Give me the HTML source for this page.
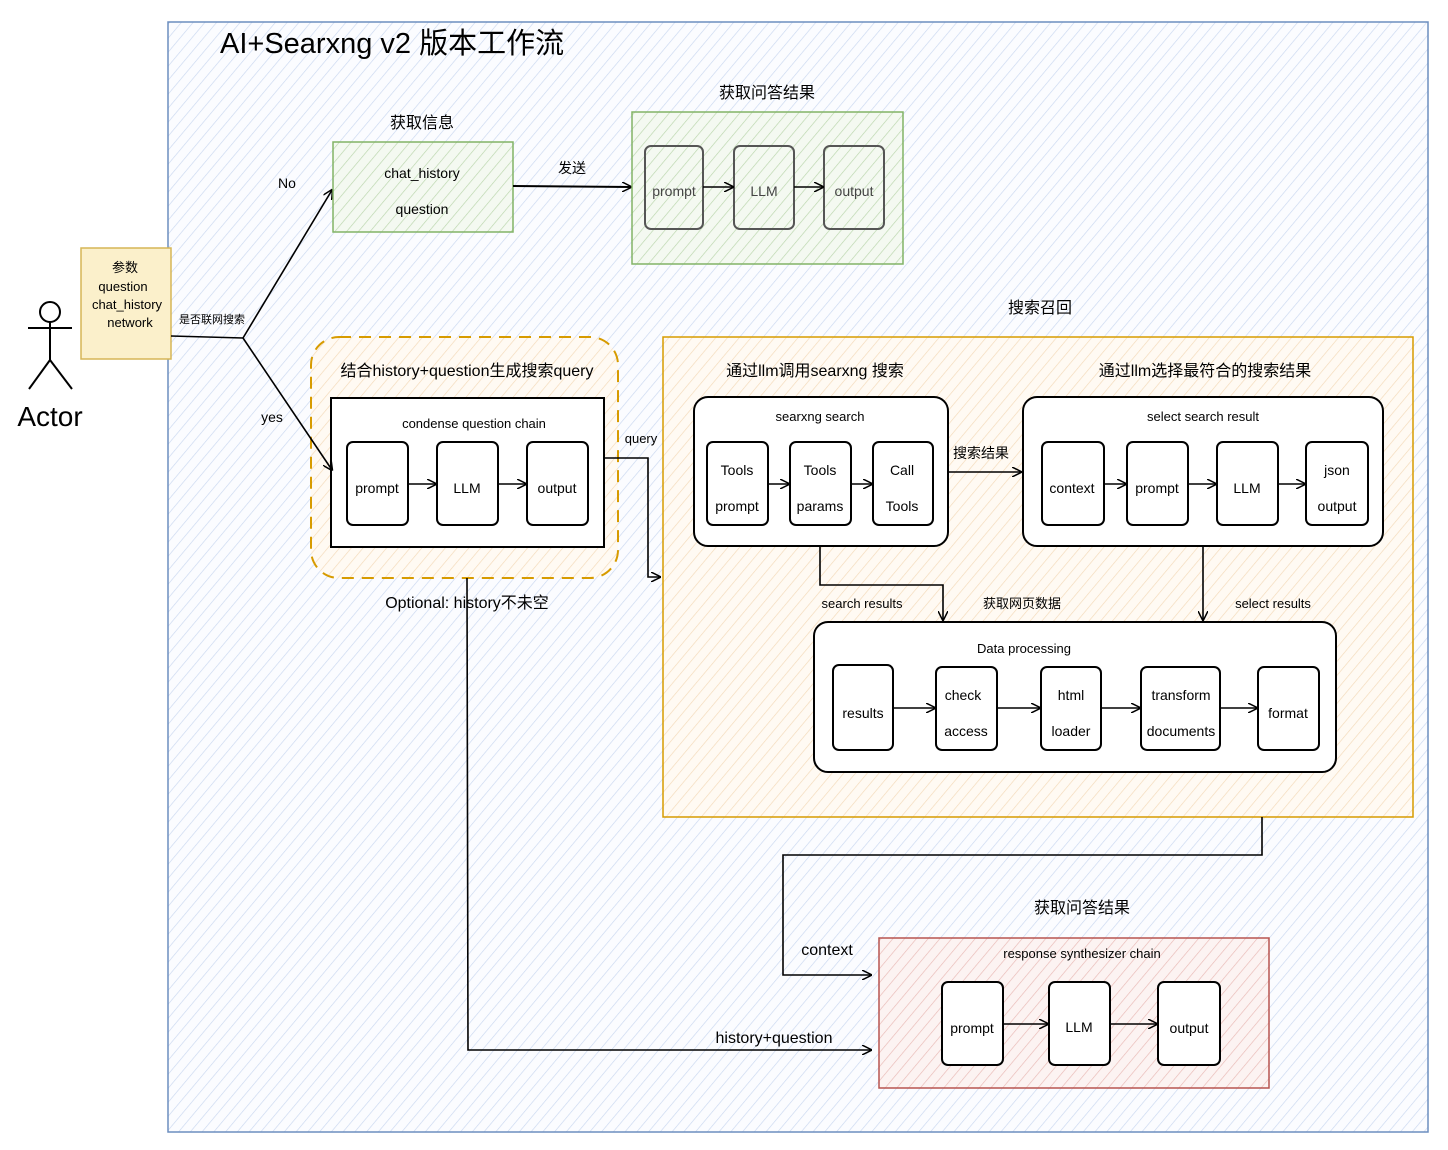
<!DOCTYPE html>
<html><head><meta charset="utf-8"><style>
html,body{margin:0;padding:0;background:#fff;}
svg{display:block;}
text{font-family:"Liberation Sans","Noto Sans CJK SC",sans-serif;fill:#000;}
</style></head><body>
<svg width="1448" height="1150" viewBox="0 0 1448 1150" xmlns="http://www.w3.org/2000/svg">
<defs>
<pattern id="hb" width="9" height="9" patternUnits="userSpaceOnUse" patternTransform="rotate(40)"><rect width="9" height="9" fill="#fbfcff"/><line x1="0" y1="0" x2="0" y2="9" stroke="#c9d7f0" stroke-width="1.3"/></pattern>
<pattern id="hg" width="9" height="9" patternUnits="userSpaceOnUse" patternTransform="rotate(40)"><rect width="9" height="9" fill="#f4f9f1"/><line x1="0" y1="0" x2="0" y2="9" stroke="#b9d5ab" stroke-width="1.3"/></pattern>
<pattern id="ho" width="9" height="9" patternUnits="userSpaceOnUse" patternTransform="rotate(40)"><rect width="9" height="9" fill="#fffaf3"/><line x1="0" y1="0" x2="0" y2="9" stroke="#f3d9b8" stroke-width="1.3"/></pattern>
<pattern id="hr" width="9" height="9" patternUnits="userSpaceOnUse" patternTransform="rotate(40)"><rect width="9" height="9" fill="#fcf3f2"/><line x1="0" y1="0" x2="0" y2="9" stroke="#e8b9b5" stroke-width="1.3"/></pattern>
<marker id="ar" viewBox="0 0 10 10" refX="9" refY="5" markerWidth="10" markerHeight="10" orient="auto" markerUnits="userSpaceOnUse"><path d="M0,0 L10,5 L0,10" fill="none" stroke="#000" stroke-width="1.5"/></marker>
</defs>

<rect x="168" y="22" width="1260" height="1110" fill="url(#hb)" stroke="#6c8ebf" stroke-width="1.5"/>
<text x="220" y="53" font-size="29">AI+Searxng v2 版本工作流</text>

<g stroke="#000" stroke-width="2" fill="none">
<circle cx="50" cy="312" r="10"/>
<line x1="50" y1="322" x2="50" y2="360"/>
<line x1="28" y1="328" x2="72" y2="328"/>
<line x1="50" y1="360" x2="29" y2="389"/>
<line x1="50" y1="360" x2="72" y2="389"/>
</g>
<text x="50" y="426" font-size="28" text-anchor="middle">Actor</text>

<rect x="81" y="248" width="90" height="111" fill="#fbf0cb" stroke="#d6b656" stroke-width="1.5"/>
<g font-size="13" text-anchor="middle">
<text x="125" y="272">参数</text><text x="123" y="291">question</text><text x="127" y="309">chat_history</text><text x="130" y="327">network</text>
</g>

<g stroke="#000" stroke-width="1.6" fill="none">
<path d="M171,336 L243,338"/>
<path d="M243,338 L332,190" marker-end="url(#ar)"/>
</g>
<text x="212" y="323" font-size="11" text-anchor="middle">是否联网搜索</text>
<text x="287" y="188" font-size="14" text-anchor="middle">No</text>
<text x="272" y="422" font-size="14" text-anchor="middle">yes</text>

<text x="422" y="128" font-size="16" text-anchor="middle">获取信息</text>
<rect x="333" y="142" width="180" height="90" fill="url(#hg)" stroke="#82b366" stroke-width="1.5"/>
<text x="422" y="178" font-size="14" text-anchor="middle">chat_history</text>
<text x="422" y="214" font-size="14" text-anchor="middle">question</text>
<path d="M513,186 L631,187" stroke="#000" stroke-width="2" fill="none" marker-end="url(#ar)"/>
<text x="572" y="173" font-size="14" text-anchor="middle">发送</text>

<text x="767" y="98" font-size="16" text-anchor="middle">获取问答结果</text>
<rect x="632" y="112" width="271" height="152" fill="url(#hg)" stroke="#82b366" stroke-width="1.5"/>
<g fill="#fff" fill-opacity="0" stroke="#555" stroke-width="2">
<rect x="645" y="146" width="58" height="83" rx="6"/>
<rect x="734" y="146" width="60" height="83" rx="6"/>
<rect x="824" y="146" width="60" height="83" rx="6"/>
</g>
<g font-size="14" text-anchor="middle">
<text x="674" y="196" style="fill:#444">prompt</text><text x="764" y="196" style="fill:#444">LLM</text><text x="854" y="196" style="fill:#444">output</text>
</g>
<g stroke="#000" stroke-width="1.6" fill="none">
<path d="M703,187 L733,187" marker-end="url(#ar)"/>
<path d="M794,187 L823,187" marker-end="url(#ar)"/>
</g>

<text x="1040" y="313" font-size="16" text-anchor="middle">搜索召回</text>

<rect x="311" y="337" width="307" height="241" rx="28" fill="url(#ho)" stroke="#d79b00" stroke-width="2" stroke-dasharray="12,8"/>
<text x="467" y="376" font-size="16" text-anchor="middle">结合history+question生成搜索query</text>
<rect x="331" y="398" width="273" height="149" fill="#fff" stroke="#000" stroke-width="2"/>
<text x="474" y="428" font-size="13" text-anchor="middle">condense question chain</text>
<g fill="#fff" stroke="#000" stroke-width="2">
<rect x="347" y="442" width="61" height="83" rx="6"/>
<rect x="437" y="442" width="61" height="83" rx="6"/>
<rect x="527" y="442" width="61" height="83" rx="6"/>
</g>
<g font-size="14" text-anchor="middle"><text x="377" y="493">prompt</text><text x="467" y="493">LLM</text><text x="557" y="493">output</text></g>
<g stroke="#000" stroke-width="1.6" fill="none">
<path d="M243,338 L332,470" marker-end="url(#ar)"/>
<path d="M408,484 L436,484" marker-end="url(#ar)"/>
<path d="M498,484 L526,484" marker-end="url(#ar)"/>
<path d="M604,458 L648,458 L648,577 L660,577" marker-end="url(#ar)"/>
<path d="M467,578 L468,1050 L871,1050" marker-end="url(#ar)"/>
</g>
<text x="641" y="443" font-size="13" text-anchor="middle">query</text>
<text x="467" y="608" font-size="16" text-anchor="middle">Optional: history不未空</text>

<rect x="663" y="337" width="750" height="480" fill="url(#ho)" stroke="#d79b00" stroke-width="1.5"/>
<text x="815" y="376" font-size="16" text-anchor="middle">通过llm调用searxng 搜索</text>
<text x="1205" y="376" font-size="16" text-anchor="middle">通过llm选择最符合的搜索结果</text>

<rect x="694" y="397" width="254" height="149" rx="14" fill="#fff" stroke="#000" stroke-width="2"/>
<text x="820" y="421" font-size="13" text-anchor="middle">searxng search</text>
<g fill="#fff" stroke="#000" stroke-width="2">
<rect x="707" y="442" width="61" height="83" rx="6"/>
<rect x="790" y="442" width="61" height="83" rx="6"/>
<rect x="873" y="442" width="60" height="83" rx="6"/>
</g>
<g font-size="14" text-anchor="middle">
<text x="737" y="475">Tools</text><text x="737" y="511">prompt</text>
<text x="820" y="475">Tools</text><text x="820" y="511">params</text>
<text x="902" y="475">Call</text><text x="902" y="511">Tools</text>
</g>
<g stroke="#000" stroke-width="1.6" fill="none">
<path d="M768,484 L789,484" marker-end="url(#ar)"/>
<path d="M851,484 L872,484" marker-end="url(#ar)"/>
<path d="M948,472 L1021,472" marker-end="url(#ar)"/>
</g>
<text x="981" y="458" font-size="14" text-anchor="middle">搜索结果</text>

<rect x="1023" y="397" width="360" height="149" rx="14" fill="#fff" stroke="#000" stroke-width="2"/>
<text x="1203" y="421" font-size="13" text-anchor="middle">select  search result</text>
<g fill="#fff" stroke="#000" stroke-width="2">
<rect x="1042" y="442" width="62" height="83" rx="6"/>
<rect x="1127" y="442" width="61" height="83" rx="6"/>
<rect x="1217" y="442" width="61" height="83" rx="6"/>
<rect x="1306" y="442" width="62" height="83" rx="6"/>
</g>
<g font-size="14" text-anchor="middle">
<text x="1072" y="493">context</text><text x="1157" y="493">prompt</text><text x="1247" y="493">LLM</text>
<text x="1337" y="475">json</text><text x="1337" y="511">output</text>
</g>
<g stroke="#000" stroke-width="1.6" fill="none">
<path d="M1104,484 L1126,484" marker-end="url(#ar)"/>
<path d="M1188,484 L1216,484" marker-end="url(#ar)"/>
<path d="M1278,484 L1305,484" marker-end="url(#ar)"/>
<path d="M820,546 L820,585 L943,585 L943,620" marker-end="url(#ar)"/>
<path d="M1203,546 L1203,620" marker-end="url(#ar)"/>
</g>
<g font-size="13" text-anchor="middle">
<text x="862" y="608">search results</text>
<text x="1022" y="608">获取网页数据</text>
<text x="1273" y="608">select results</text>
</g>

<rect x="814" y="622" width="522" height="150" rx="14" fill="#fff" stroke="#000" stroke-width="2"/>
<text x="1024" y="653" font-size="13" text-anchor="middle">Data processing</text>
<g fill="#fff" stroke="#000" stroke-width="2">
<rect x="833" y="665" width="60" height="85" rx="6"/>
<rect x="936" y="667" width="61" height="83" rx="6"/>
<rect x="1041" y="667" width="60" height="83" rx="6"/>
<rect x="1141" y="667" width="79" height="83" rx="6"/>
<rect x="1258" y="667" width="61" height="83" rx="6"/>
</g>
<g font-size="14" text-anchor="middle">
<text x="863" y="718">results</text>
<text x="963" y="700">check</text><text x="966" y="736">access</text>
<text x="1071" y="700">html</text><text x="1071" y="736">loader</text>
<text x="1181" y="700">transform</text><text x="1181" y="736">documents</text>
<text x="1288" y="718">format</text>
</g>
<g stroke="#000" stroke-width="1.6" fill="none">
<path d="M893,708 L935,708" marker-end="url(#ar)"/>
<path d="M997,708 L1040,708" marker-end="url(#ar)"/>
<path d="M1101,708 L1140,708" marker-end="url(#ar)"/>
<path d="M1220,708 L1257,708" marker-end="url(#ar)"/>
<path d="M1262,817 L1262,855 L783,855 L783,975 L871,975" marker-end="url(#ar)"/>
</g>
<text x="827" y="955" font-size="16" text-anchor="middle">context</text>
<text x="774" y="1043" font-size="16" text-anchor="middle">history+question</text>

<text x="1082" y="913" font-size="16" text-anchor="middle">获取问答结果</text>
<rect x="879" y="938" width="390" height="150" fill="url(#hr)" stroke="#b85450" stroke-width="1.5"/>
<text x="1082" y="958" font-size="13" text-anchor="middle">response synthesizer chain</text>
<g fill="#fff" stroke="#000" stroke-width="2">
<rect x="942" y="982" width="61" height="83" rx="6"/>
<rect x="1049" y="982" width="61" height="83" rx="6"/>
<rect x="1158" y="982" width="62" height="83" rx="6"/>
</g>
<g font-size="14" text-anchor="middle"><text x="972" y="1033">prompt</text><text x="1079" y="1032">LLM</text><text x="1189" y="1033">output</text></g>
<g stroke="#000" stroke-width="1.6" fill="none">
<path d="M1003,1024 L1048,1024" marker-end="url(#ar)"/>
<path d="M1110,1024 L1157,1024" marker-end="url(#ar)"/>
</g>
</svg>
</body></html>
